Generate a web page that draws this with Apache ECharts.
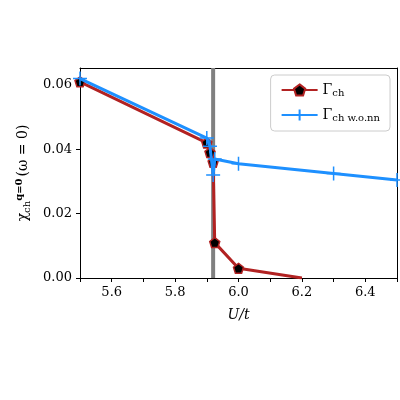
<!DOCTYPE html><html><head><meta charset="utf-8"><script src="https://cdn.jsdelivr.net/npm/echarts@6/dist/echarts.min.js"></script></head><body style="margin:0"><div id="c" style="width:400px;height:400px"></div><script>
const redX=[5.5,5.9,5.91,5.92,5.925,6.0,6.2];
const redY=[0.061,0.042,0.039,0.036,0.011,0.003,0.0];
const blueX=[5.5,5.9,5.91,5.92,5.925,6.0,6.3,6.5];
const blueY=[0.062,0.0435,0.041,0.032,0.037,0.0355,0.0325,0.0305];
const xTicks=[5.6,5.8,6.0,6.2,6.4];
const yTicks=[0.00,0.02,0.04,0.06];
const vline=5.92;
const f='DejaVu Serif';
const ch=echarts.init(document.getElementById('c'));
const frame={axisLine:{show:true,onZero:false,lineStyle:{color:'#000'}},axisTick:{show:false},axisLabel:{show:false},splitLine:{show:false}};
ch.setOption({animation:false,
grid:{left:80,right:1,top:68,bottom:122},
xAxis:[{type:'value',min:5.5,max:6.5,interval:0.1,
 axisLine:{onZero:false,lineStyle:{color:'#000'}},axisTick:{length:4,lineStyle:{color:'#000'}},splitLine:{show:false},
 axisLabel:{color:'#000',fontFamily:f,fontSize:13,formatter:v=>xTicks.some(t=>Math.abs(t-v)<1e-6)?v.toFixed(1):''},
 name:'U/t',nameLocation:'middle',nameGap:30,nameTextStyle:{fontFamily:f,fontStyle:'italic',fontSize:14,color:'#000'}},
 Object.assign({type:'value',min:5.5,max:6.5,position:'top'},frame)],
yAxis:[{type:'value',min:0,max:0.0653,interval:0.02,
 axisLine:{show:true,lineStyle:{color:'#000'}},axisTick:{show:true,length:4,lineStyle:{color:'#000'}},splitLine:{show:false},
 axisLabel:{color:'#000',fontFamily:f,fontSize:13,showMaxLabel:false,formatter:v=>yTicks.some(t=>Math.abs(t-v)<1e-6)?v.toFixed(2):''},
 name:'{a|χ}{s|ch}{p|q=0}{a|(ω = 0)}',nameLocation:'middle',nameGap:48,nameRotate:90,
 nameTextStyle:{rich:{a:{fontFamily:f,fontSize:14,color:'#000'},s:{fontFamily:f,fontSize:10,color:'#000',verticalAlign:'bottom',padding:[6,0,0,0]},p:{fontFamily:f,fontSize:10,fontWeight:'bold',color:'#000',verticalAlign:'top',padding:[0,2,8,0]}}}},
 Object.assign({type:'value',min:0,max:0.0653,position:'right'},frame)],
legend:{right:10,top:75,orient:'vertical',backgroundColor:'#fff',borderColor:'#ccc',borderWidth:1,borderRadius:4,padding:[8,10],itemGap:10,itemWidth:36,
 textStyle:{rich:{a:{fontFamily:f,fontSize:14,color:'#000'},s:{fontFamily:f,fontSize:10,color:'#000',verticalAlign:'bottom',padding:[6,0,0,0]}}},
 formatter:n=>n==='r'?'{a|Γ}{s|ch}':'{a|Γ}{s|ch w.o.nn}'},
series:[
{name:'v',type:'line',data:[[vline,0],[vline,0.0653]],symbol:'none',lineStyle:{color:'#808080',width:4},z:1,silent:true},
{name:'r',type:'line',data:redX.map((x,i)=>i===redX.length-1?{value:[x,redY[i]],symbol:'none'}:[x,redY[i]]),symbol:'path://M0,-1L0.95,-0.31L0.59,0.81L-0.59,0.81L-0.95,-0.31Z',symbolSize:10,
 lineStyle:{color:'#b22222',width:3},itemStyle:{color:'#000',borderColor:'#b22222',borderWidth:1.5},z:3},
{name:'b',type:'line',data:blueX.map((x,i)=>[x,blueY[i]]),symbol:'path://M-1,0L1,0M0,-1L0,1',symbolSize:14,
 lineStyle:{color:'#1e90ff',width:3},itemStyle:{color:'#1e90ff',borderColor:'#1e90ff',borderWidth:1.5},z:4}
],
});
ch.setOption({legend:{data:['r','b']}});
</script></body></html>
